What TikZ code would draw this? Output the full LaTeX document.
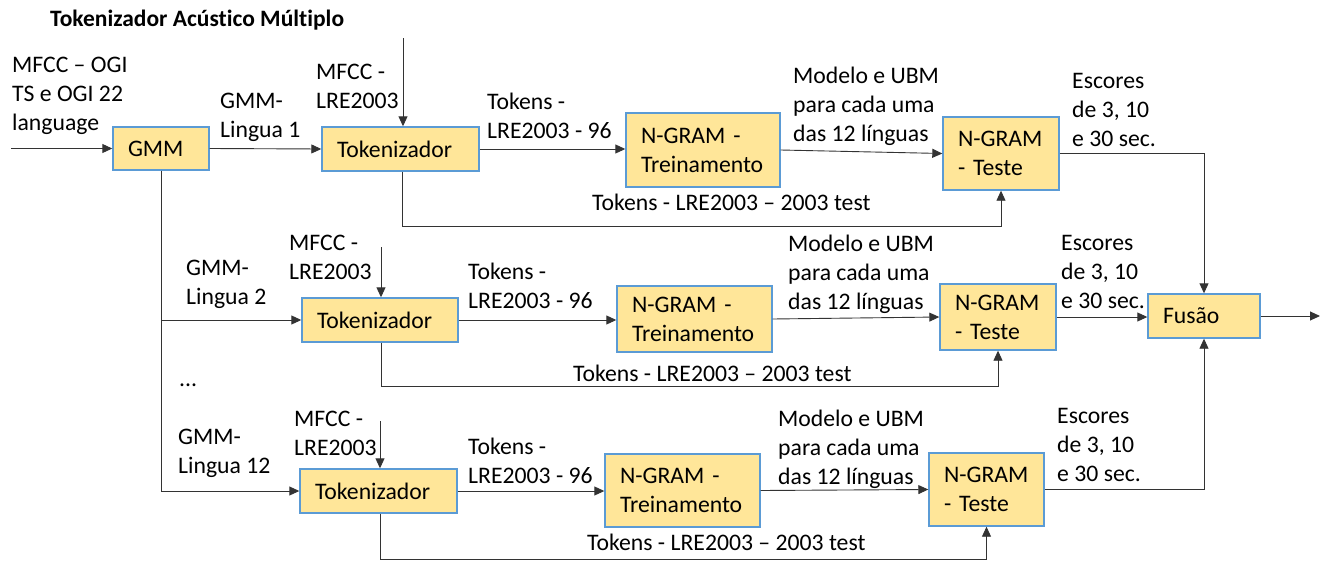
\documentclass[tikz,border=0pt]{standalone}
\usepackage{fontspec}
\setmainfont{Carlito}[Ligatures=NoCommon]
\usetikzlibrary{arrows.meta,calc}
\definecolor{boxfill}{HTML}{FFE699}
\definecolor{boxline}{HTML}{5B9BD5}
\newcommand\bodyfs{\fontsize{23.7}{29}\selectfont}
\begin{document}
\begin{tikzpicture}[x=1pt,y=-1pt,
  box/.style={draw=boxline, line width=1.4pt, fill=boxfill, inner xsep=15pt, inner ysep=0pt, align=left, font=\bodyfs},
  lbl/.style={anchor=west, inner sep=0pt, align=left, font=\bodyfs},
  conn/.style={draw=black!80, line width=0.9pt},
  arr/.style={conn, -{Triangle[length=10pt,width=9pt]}}]
\useasboundingbox (0,0) rectangle (1320,562);

\node[anchor=west, inner sep=0pt, font=\bfseries\fontsize{23.5}{28}\selectfont] (title) at (50,20) {Tokenizador Acústico Múltiplo};

% boxes
\node[box, minimum height=43pt, text width=66pt] (gmm) at (161,148.5) {GMM};
\node[box, minimum height=44pt, text width=127pt] (tok1) at (400.5,149) {Tokenizador};
\node[box, minimum height=74pt, text width=124pt] (ng1) at (703,150) {N-GRAM -\\Treinamento};
\node[box, minimum height=73pt, text width=86pt] (te1) at (1001,153.5) {N-GRAM\\- Teste};
\node[box, minimum height=44pt, text width=82pt] (fus) at (1204,316) {Fusão};
\node[box, minimum height=44pt, text width=126pt] (tok2) at (380,320) {Tokenizador};
\node[box, minimum height=66pt, text width=125pt] (ng2) at (694.5,319) {N-GRAM -\\Treinamento};
\node[box, minimum height=66pt, text width=86pt] (te2) at (998,317) {N-GRAM\\- Teste};
\node[box, minimum height=44pt, text width=127pt] (tok3) at (378.5,491) {Tokenizador};
\node[box, minimum height=73pt, text width=125pt] (ng3) at (682.5,490.5) {N-GRAM -\\Treinamento};
\node[box, minimum height=73pt, text width=85pt] (te3) at (986.5,489.5) {N-GRAM\\- Teste};

% coordinates
\coordinate (in) at (11,148.5);
\coordinate (m1) at (403,38);
\coordinate (m2) at (381,247);
\coordinate (m3) at (380,421);
\coordinate (l1) at (402,226);
\coordinate (l2) at (381,386);
\coordinate (l3) at (380,559);
\coordinate (g3) at (161,491);
\coordinate (out) at (1320,316);

% connectors row 1
\draw[arr] (in) -- (gmm.west);
\draw[arr] (gmm.east) -- (tok1.west);
\draw[arr] (m1) -- (m1 |- tok1.north);
\draw[arr] (tok1.east) -- (tok1.east -| ng1.west);
\draw[arr] (ng1.east) -- (te1.west);
\draw[arr] (l1 |- tok1.south) -- (l1) -| (te1.south);
\draw[arr] (te1.east) -| (fus.north);

% GMM branches
\draw[conn] (gmm.south) -- (g3);
\draw[arr] (gmm.south |- tok2.west) -- (tok2.west);
\draw[arr] (g3) -- (tok3.west);

% row 2
\draw[arr] (m2) -- (m2 |- tok2.north);
\draw[arr] (tok2.east) -- (tok2.east -| ng2.west);
\draw[arr] (ng2.east) -- (te2.west);
\draw[arr] (te2.east) -- (te2.east -| fus.west);
\draw[arr] (l2 |- tok2.south) -- (l2) -| (te2.south);
\draw[arr] (fus.east) -- (out);

% row 3
\draw[arr] (m3) -- (m3 |- tok3.north);
\draw[arr] (tok3.east) -- (tok3.east -| ng3.west);
\draw[arr] (ng3.east) -- (te3.west);
\draw[arr] (te3.east) -| (fus.south);
\draw[arr] (l3 |- tok3.south) -- (l3) -| (te3.south);

% labels row 1
\node[lbl] (lin) at (12,96) {MFCC – OGI\\TS e OGI 22\\language};
\node[lbl] (lg1) at (220,117) {GMM-\\Lingua 1};
\node[lbl] (lm1) at (316,86) {MFCC -\\LRE2003};
\node[lbl] (lt1) at (487,116) {Tokens -\\LRE2003 - 96};
\node[lbl] (lmo1) at (793,106) {Modelo e UBM\\para cada uma\\das 12 línguas};
\node[lbl] (lte1) at (592,202) {Tokens - LRE2003 – 2003 test};
\node[lbl] (les1) at (1072,110) {Escores\\de 3, 10\\e 30 sec.};

% labels row 2
\node[lbl] (lg2) at (186,284.5) {GMM-\\Lingua 2};
\node[lbl] (lm2) at (289,257) {MFCC -\\LRE2003};
\node[lbl] (lt2) at (468,286) {Tokens -\\LRE2003 - 96};
\node[lbl] (lmo2) at (788,274) {Modelo e UBM\\para cada uma\\das 12 línguas};
\node[lbl] (lte2) at (573,373) {Tokens - LRE2003 – 2003 test};
\node[lbl] (les2) at (1061,272) {Escores\\de 3, 10\\e 30 sec.};
\node[lbl] (ldots) at (179,385) {...};

% labels row 3
\node[lbl] (lg3) at (178,453.5) {GMM-\\Lingua 12};
\node[lbl] (lm3) at (294,433) {MFCC -\\LRE2003};
\node[lbl] (lt3) at (468,461) {Tokens -\\LRE2003 - 96};
\node[lbl] (lmo3) at (778,449) {Modelo e UBM\\para cada uma\\das 12 línguas};
\node[lbl] (lte3) at (587,542) {Tokens - LRE2003 – 2003 test};
\node[lbl] (les3) at (1057,445) {Escores\\de 3, 10\\e 30 sec.};
\end{tikzpicture}
\end{document}
